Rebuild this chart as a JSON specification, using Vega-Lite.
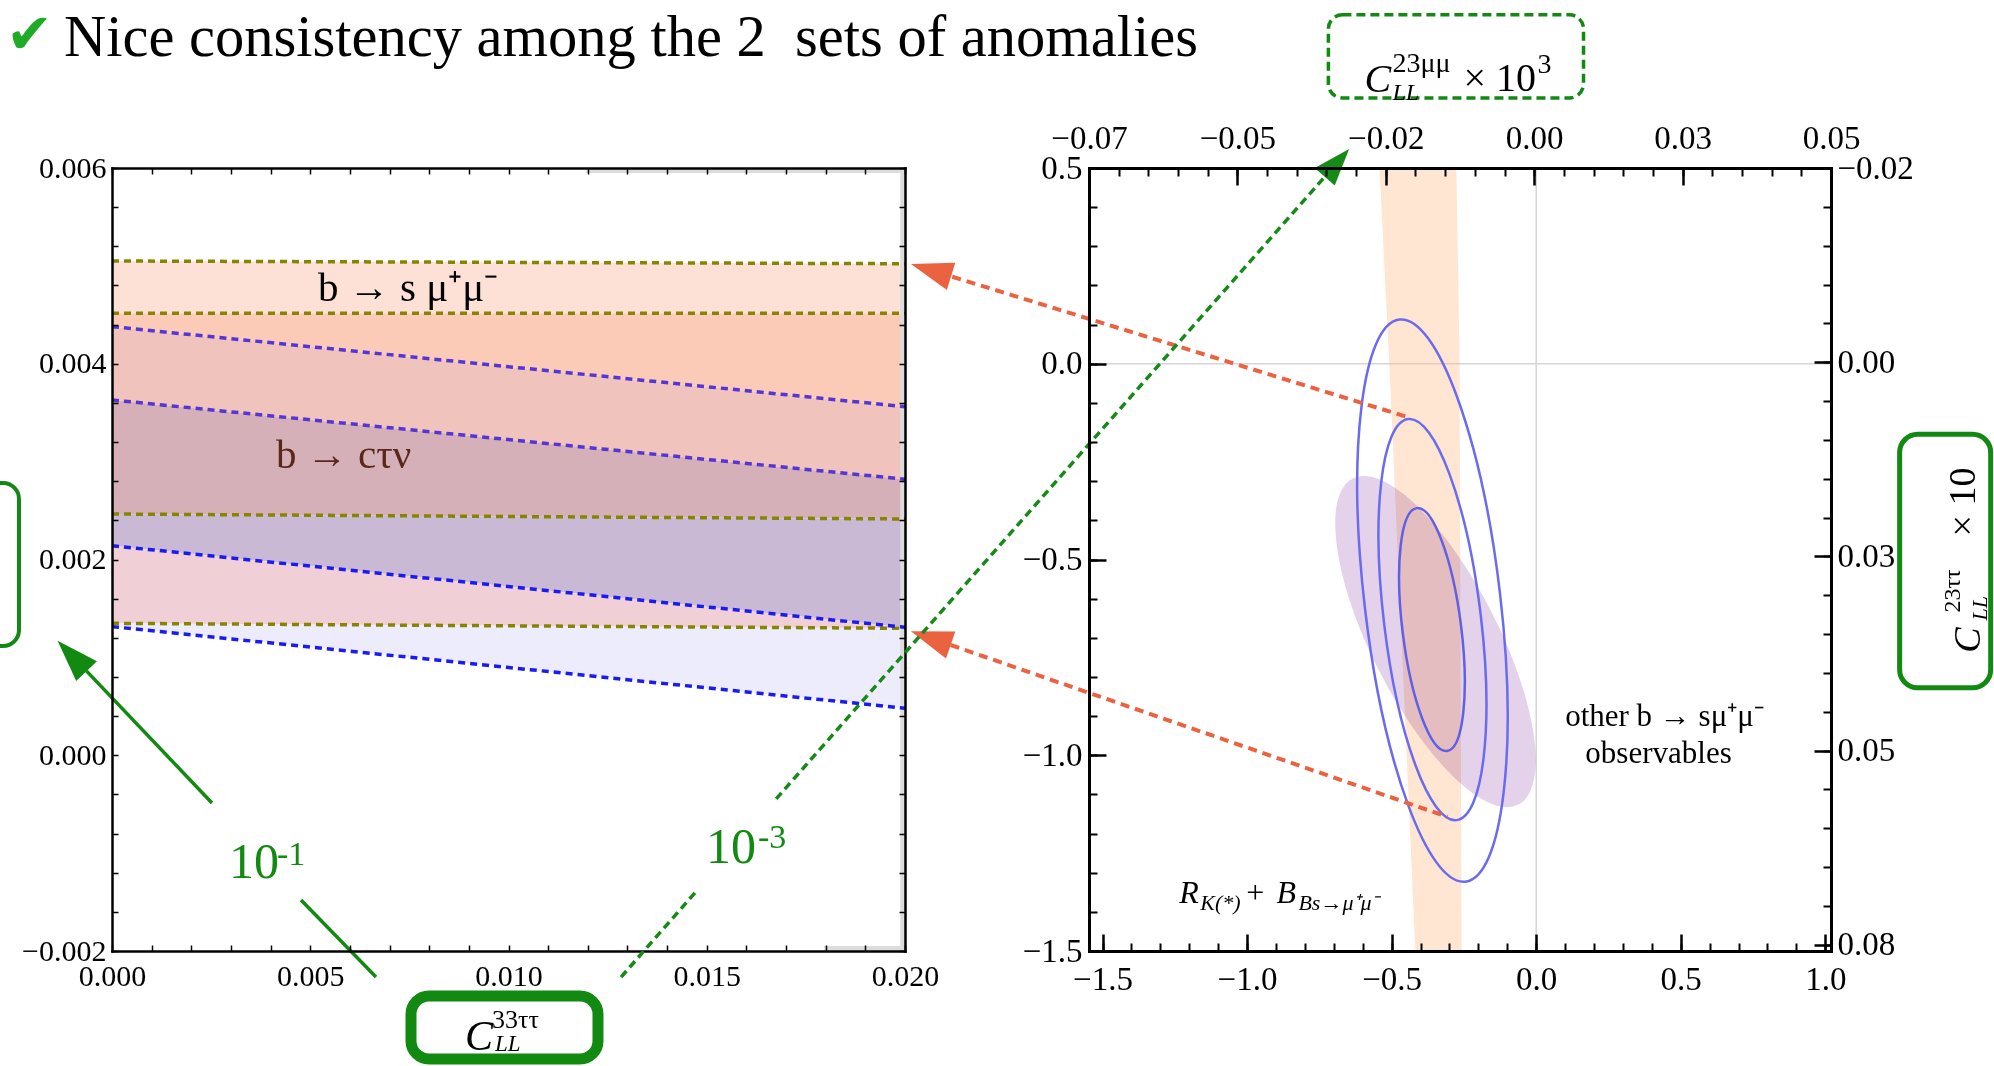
{
"$schema": "https://vega.github.io/schema/vega-lite/v6.json",
"background": "white",
"autosize": {"type": "none"},
"padding": {"left": 112, "top": 168, "right": 1882, "bottom": 898},
"spacing": 184,
"bounds": "flush",
"config": {"view": {"stroke": null}, "axis": {"grid": false, "labelFont": "Liberation Serif", "labelColor": "#000000", "tickColor": "#000000", "domainColor": "#000000"}, "text": {"font": "Liberation Serif"}},
"datasets": {
"bands": [
{"region":"R1","x":0,"lo":0.004515,"hi":0.00505},{"region":"R1","x":0.02,"lo":0.004515,"hi":0.005022},
{"region":"R2","x":0,"lo":0.004379,"hi":0.004515},{"region":"R2","x":0.02,"lo":0.003561,"hi":0.004515},
{"region":"R3","x":0,"lo":0.00363,"hi":0.004379},{"region":"R3","x":0.02,"lo":0.00282,"hi":0.003561},
{"region":"R4","x":0,"lo":0.002465,"hi":0.00363},{"region":"R4","x":0.02,"lo":0.002414,"hi":0.00282},
{"region":"R5","x":0,"lo":0.002141,"hi":0.002465},{"region":"R5","x":0.02,"lo":0.001307,"hi":0.002414},
{"region":"R6","x":0,"lo":0.001348,"hi":0.002141},{"region":"R6","x":0.02,"lo":0.001297,"hi":0.001307},
{"region":"R7","x":0,"lo":0.001314,"hi":0.001348},{"region":"R7","x":0.02,"lo":0.00048,"hi":0.001297}
],
"bandlines": [
{"line":"s2u","set":"bsmumu","x":0,"y":0.00505},{"line":"s2u","set":"bsmumu","x":0.02,"y":0.005022},
{"line":"s1u","set":"bsmumu","x":0,"y":0.004515},{"line":"s1u","set":"bsmumu","x":0.02,"y":0.004515},
{"line":"s1l","set":"bsmumu","x":0,"y":0.002465},{"line":"s1l","set":"bsmumu","x":0.02,"y":0.002414},
{"line":"s2l","set":"bsmumu","x":0,"y":0.001348},{"line":"s2l","set":"bsmumu","x":0.02,"y":0.001297},
{"line":"c2u","set":"bctaunu_hi","x":0,"y":0.004379},{"line":"c2u","set":"bctaunu_hi","x":0.02,"y":0.003561},
{"line":"c1u","set":"bctaunu_hi","x":0,"y":0.00363},{"line":"c1u","set":"bctaunu_hi","x":0.02,"y":0.00282},
{"line":"c1l","set":"bctaunu_lo","x":0,"y":0.002141},{"line":"c1l","set":"bctaunu_lo","x":0.02,"y":0.001307},
{"line":"c2l","set":"bctaunu_lo","x":0,"y":0.001314},{"line":"c2l","set":"bctaunu_lo","x":0.02,"y":0.00048}
],
"grayL": [
{"x1":0.01988,"x2":0.02,"y1":-0.002,"y2":0.006},
{"x1":0.01196,"x2":0.02,"y1":0.005949,"y2":0.006},
{"x1":0.01796,"x2":0.02,"y1":-0.002,"y2":-0.00195}
],
"boxesL": [
{"id":"ylab","x1":-0.0035,"x2":-0.002346,"y1":0.001116,"y2":0.002782},
{"id":"xlab","x1":0.007541,"x2":0.012257,"y1":-0.003103,"y2":-0.00246}
],
"arrowL": [
{"seg":"a","x":0.002522,"y":-0.000488},{"seg":"a","x":-0.000646,"y":0.000862},
{"seg":"b","x":0.004767,"y":-0.001479},{"seg":"b","x":0.006658,"y":-0.002266}
],
"headL": [{"x":-0.001372,"y":0.00117}],
"labelsL": [
{"s":"title","x":-0.0012106,"y":0.007144,"t":"Nice consistency among the 2\u00a0 sets of anomalies"},
{"s":"check","x":-0.002673,"y":0.007175,"t":"✔"},
{"s":"bs","x":0.005196,"y":0.004641,"t":"b → s μ⁺μ⁻"},
{"s":"bc","x":0.004136,"y":0.002935,"t":"b → cτν"},
{"s":"C","x":0.008903,"y":-0.003011,"t":"C"},
{"s":"sup","x":0.009584,"y":-0.002787,"t":"33ττ"},
{"s":"sub","x":0.00966,"y":-0.003022,"t":"LL"},
{"s":"ten","x":0.002951,"y":-0.001254,"t":"10"},
{"s":"exp","x":0.004161,"y":-0.001121,"t":"-1"},
{"s":"ten","x":0.014981,"y":-0.001101,"t":"10"},
{"s":"exp","x":0.016293,"y":-0.000947,"t":"-3"}
],
"orangeband": [{"y":0.5,"xl":-0.542,"xr":-0.276},{"y":0,"xl":-0.508,"xr":-0.265},{"y":-1.5,"xl":-0.418,"xr":-0.258}],
"zero": [{"v":0}],
"contours": [
{"ring":"3sigma","x":-0.3588,"y":-0.6049},
{"ring":"2sigma","x":-0.3588,"y":-0.6535},
{"ring":"1sigma","x":-0.3606,"y":-0.679}
],
"otherobs": [{"x":-0.3484,"y":-0.7097}],
"arrowsR": [
{"id":"r1","x":-0.4419,"y":-0.1368},{"id":"r1","x":-2.0197,"y":0.2223},
{"id":"r2","x":-0.3069,"y":-1.1573},{"id":"r2","x":-2.0253,"y":-0.7184}
],
"headsR": [
{"id":"r1","x":-2.1626,"y":0.2545},
{"id":"r2","x":-2.1626,"y":-0.6834},
{"id":"g","x":-0.6471,"y":0.5486}
],
"greenDash": [
{"id":"lo","x":-3.1651,"y":-1.5665},{"id":"lo","x":-2.9056,"y":-1.3478},
{"id":"hi","x":-2.6287,"y":-1.1113},{"id":"hi","x":-0.7315,"y":0.4775}
],
"boxesR": [
{"id":"ybox","x1":1.2571,"x2":1.572,"y1":-0.8274,"y2":-0.1803},
{"id":"topbox","x1":-0.7187,"x2":0.1637,"y1":0.679,"y2":0.8913}
],
"labelsR": [
{"s":"obs","x":0.4439,"y":-0.9246,"t":"other b → sμ⁺μ⁻"},
{"s":"obs","x":0.4232,"y":-1.0205,"t":"observables"},
{"s":"Rbig","x":-1.2343,"y":-1.3772,"t":"R"},
{"s":"Rsub","x":-1.1616,"y":-1.3951,"t":"K(*)"},
{"s":"plus","x":-1.0024,"y":-1.3772,"t":"+"},
{"s":"Rbig","x":-0.8986,"y":-1.3772,"t":"B"},
{"s":"Rsub","x":-0.8225,"y":-1.3951,"t":"Bs→μ⁺μ⁻"},
{"s":"Cbig","x":-0.5941,"y":0.6944,"t":"C"},
{"s":"sup","x":-0.4972,"y":0.7455,"t":"23μμ"},
{"s":"sub","x":-0.4972,"y":0.6739,"t":"LL"},
{"s":"times","x":-0.2516,"y":0.6969,"t":"× 10"},
{"s":"sup","x":0.0045,"y":0.743,"t":"3"},
{"s":"rC","x":1.5343,"y":-0.7379,"t":"C"},
{"s":"rsup","x":1.4647,"y":-0.6355,"t":"23ττ"},
{"s":"rsub","x":1.5582,"y":-0.656,"t":"LL"},
{"s":"rtimes","x":1.5166,"y":-0.4412,"t":"× 10"}
],
"topright": [{"t":-0.075,"r":-0.025},{"t":0.05,"r":0.0758}]
},
"hconcat": [
{
"width": 793, "height": 783,
"resolve": {"scale": {"color": "independent"}, "axis": {"x": "independent", "y": "independent"}},
"layer": [
{"data": {"name": "bands"}, "mark": {"type": "area"},
 "encoding": {
  "x": {"field": "x", "type": "quantitative", "scale": {"domain": [0, 0.02], "nice": false, "zero": false},
        "axis": {"orient": "bottom", "values": [0, 0.005, 0.01, 0.015, 0.02], "format": ".3f", "ticks": false, "domain": false, "labelPadding": 34, "labelBaseline": "alphabetic", "labelFontSize": 30, "labelFlush": false, "labelOverlap": false, "title": null}},
  "y": {"field": "lo", "type": "quantitative", "stack": null, "scale": {"domain": [-0.002, 0.006], "nice": false, "zero": false},
        "axis": {"orient": "left", "values": [-0.002, 0, 0.002, 0.004, 0.006], "format": ".3f", "ticks": false, "domain": false, "labelPadding": 6, "labelFontSize": 30, "labelFlush": false, "labelOverlap": false, "title": null}},
  "y2": {"field": "hi"},
  "color": {"field": "region", "type": "nominal", "legend": null, "scale": {"domain": ["R1","R2","R3","R4","R5","R6","R7"], "range": ["#fde0d6","#fccbb8","#f0c3bd","#d5b0b8","#c9b9d4","#f0d0d6","#ececfc"]}}
 }},
{"data": {"name": "grayL"}, "mark": {"type": "rect", "color": "#dcdcdc"},
 "encoding": {
  "x": {"field": "x1", "type": "quantitative", "scale": {"domain": [0, 0.02], "nice": false, "zero": false},
        "axis": {"orient": "top", "values": [0,0.001,0.002,0.003,0.004,0.005,0.006,0.007,0.008,0.009,0.01,0.011,0.012,0.013,0.014,0.015,0.016,0.017,0.018,0.019,0.02], "labels": false, "tickSize": -6, "tickWidth": 1.5, "domainWidth": 2.5, "domainCap": "square", "zindex": 1, "title": null}},
  "x2": {"field": "x2"},
  "y": {"field": "y1", "type": "quantitative", "scale": {"domain": [-0.002, 0.006], "nice": false, "zero": false},
        "axis": {"orient": "right", "values": [-0.002,-0.0016,-0.0012,-0.0008,-0.0004,0,0.0004,0.0008,0.0012,0.0016,0.002,0.0024,0.0028,0.0032,0.0036,0.004,0.0044,0.0048,0.0052,0.0056,0.006], "labels": false, "tickSize": -6, "tickWidth": 1.5, "domainWidth": 2.5, "domainCap": "square", "zindex": 1, "title": null}},
  "y2": {"field": "y2"}
 }},
{"data": {"name": "bandlines"}, "mark": {"type": "line", "strokeDash": [7, 5], "strokeWidth": 3.5},
 "encoding": {
  "x": {"field": "x", "type": "quantitative", "scale": {"domain": [0, 0.02], "nice": false, "zero": false},
        "axis": {"orient": "bottom", "values": [0,0.001,0.002,0.003,0.004,0.005,0.006,0.007,0.008,0.009,0.01,0.011,0.012,0.013,0.014,0.015,0.016,0.017,0.018,0.019,0.02], "labels": false, "tickSize": -6, "tickWidth": 1.5, "domainWidth": 2.5, "domainCap": "square", "zindex": 1, "title": null}},
  "y": {"field": "y", "type": "quantitative", "scale": {"domain": [-0.002, 0.006], "nice": false, "zero": false},
        "axis": {"orient": "left", "values": [-0.002,-0.0016,-0.0012,-0.0008,-0.0004,0,0.0004,0.0008,0.0012,0.0016,0.002,0.0024,0.0028,0.0032,0.0036,0.004,0.0044,0.0048,0.0052,0.0056,0.006], "labels": false, "tickSize": -6, "tickWidth": 1.5, "domainWidth": 2.5, "domainCap": "square", "zindex": 1, "title": null}},
  "detail": {"field": "line", "type": "nominal"},
  "color": {"field": "set", "type": "nominal", "legend": null, "scale": {"domain": ["bsmumu","bctaunu_hi","bctaunu_lo"], "range": ["#858500","#5535d5","#1a1af5"]}}
 }},
{"data": {"name": "boxesL"}, "transform": [{"filter": "datum.id == 'ylab'"}],
 "mark": {"type": "rect", "fill": "white", "fillOpacity": 0, "stroke": "#148814", "strokeWidth": 4, "cornerRadius": 16},
 "encoding": {
  "x": {"field": "x1", "type": "quantitative", "scale": {"domain": [0, 0.02], "nice": false, "zero": false}, "axis": null}, "x2": {"field": "x2"},
  "y": {"field": "y1", "type": "quantitative", "scale": {"domain": [-0.002, 0.006], "nice": false, "zero": false}, "axis": null}, "y2": {"field": "y2"}
 }},
{"data": {"name": "boxesL"}, "transform": [{"filter": "datum.id == 'xlab'"}],
 "mark": {"type": "rect", "fill": "white", "stroke": "#128a12", "strokeWidth": 11, "cornerRadius": 18},
 "encoding": {
  "x": {"field": "x1", "type": "quantitative", "scale": {"domain": [0, 0.02], "nice": false, "zero": false}, "axis": null}, "x2": {"field": "x2"},
  "y": {"field": "y1", "type": "quantitative", "scale": {"domain": [-0.002, 0.006], "nice": false, "zero": false}, "axis": null}, "y2": {"field": "y2"}
 }},
{"data": {"name": "arrowL"}, "mark": {"type": "line", "color": "#128a12", "strokeWidth": 3.5},
 "encoding": {
  "x": {"field": "x", "type": "quantitative", "scale": {"domain": [0, 0.02], "nice": false, "zero": false}, "axis": null},
  "y": {"field": "y", "type": "quantitative", "scale": {"domain": [-0.002, 0.006], "nice": false, "zero": false}, "axis": null},
  "detail": {"field": "seg", "type": "nominal"}
 }},
{"data": {"name": "headL"}, "mark": {"type": "point", "shape": "M 0 0 L 0.68 2 L -0.68 2 Z", "size": 1764, "angle": 316.4, "filled": true, "fill": "#128a12", "opacity": 1, "strokeWidth": 0},
 "encoding": {
  "x": {"field": "x", "type": "quantitative", "scale": {"domain": [0, 0.02], "nice": false, "zero": false}, "axis": null},
  "y": {"field": "y", "type": "quantitative", "scale": {"domain": [-0.002, 0.006], "nice": false, "zero": false}, "axis": null}
 }},
{"data": {"name": "labelsL"}, "transform": [{"filter": "datum.s == 'title'"}], "mark": {"type": "text", "align": "left", "baseline": "alphabetic", "fontSize": 58.5, "color": "#000000"},
 "encoding": {"x": {"field": "x", "type": "quantitative", "scale": {"domain": [0, 0.02], "nice": false, "zero": false}, "axis": null}, "y": {"field": "y", "type": "quantitative", "scale": {"domain": [-0.002, 0.006], "nice": false, "zero": false}, "axis": null}, "text": {"field": "t", "type": "nominal"}}},
{"data": {"name": "labelsL"}, "transform": [{"filter": "datum.s == 'check'"}], "mark": {"type": "text", "align": "left", "baseline": "alphabetic", "fontSize": 56, "font": "DejaVu Sans", "color": "#1faa28"},
 "encoding": {"x": {"field": "x", "type": "quantitative", "scale": {"domain": [0, 0.02], "nice": false, "zero": false}, "axis": null}, "y": {"field": "y", "type": "quantitative", "scale": {"domain": [-0.002, 0.006], "nice": false, "zero": false}, "axis": null}, "text": {"field": "t", "type": "nominal"}}},
{"data": {"name": "labelsL"}, "transform": [{"filter": "datum.s == 'bs'"}], "mark": {"type": "text", "align": "left", "baseline": "alphabetic", "fontSize": 41, "color": "#000000"},
 "encoding": {"x": {"field": "x", "type": "quantitative", "scale": {"domain": [0, 0.02], "nice": false, "zero": false}, "axis": null}, "y": {"field": "y", "type": "quantitative", "scale": {"domain": [-0.002, 0.006], "nice": false, "zero": false}, "axis": null}, "text": {"field": "t", "type": "nominal"}}},
{"data": {"name": "labelsL"}, "transform": [{"filter": "datum.s == 'bc'"}], "mark": {"type": "text", "align": "left", "baseline": "alphabetic", "fontSize": 41, "color": "#5a2819"},
 "encoding": {"x": {"field": "x", "type": "quantitative", "scale": {"domain": [0, 0.02], "nice": false, "zero": false}, "axis": null}, "y": {"field": "y", "type": "quantitative", "scale": {"domain": [-0.002, 0.006], "nice": false, "zero": false}, "axis": null}, "text": {"field": "t", "type": "nominal"}}},
{"data": {"name": "labelsL"}, "transform": [{"filter": "datum.s == 'C'"}], "mark": {"type": "text", "align": "left", "baseline": "alphabetic", "fontSize": 42, "fontStyle": "italic", "color": "#000000"},
 "encoding": {"x": {"field": "x", "type": "quantitative", "scale": {"domain": [0, 0.02], "nice": false, "zero": false}, "axis": null}, "y": {"field": "y", "type": "quantitative", "scale": {"domain": [-0.002, 0.006], "nice": false, "zero": false}, "axis": null}, "text": {"field": "t", "type": "nominal"}}},
{"data": {"name": "labelsL"}, "transform": [{"filter": "datum.s == 'sup'"}], "mark": {"type": "text", "align": "left", "baseline": "alphabetic", "fontSize": 26, "color": "#000000"},
 "encoding": {"x": {"field": "x", "type": "quantitative", "scale": {"domain": [0, 0.02], "nice": false, "zero": false}, "axis": null}, "y": {"field": "y", "type": "quantitative", "scale": {"domain": [-0.002, 0.006], "nice": false, "zero": false}, "axis": null}, "text": {"field": "t", "type": "nominal"}}},
{"data": {"name": "labelsL"}, "transform": [{"filter": "datum.s == 'sub'"}], "mark": {"type": "text", "align": "left", "baseline": "alphabetic", "fontSize": 23, "fontStyle": "italic", "color": "#000000"},
 "encoding": {"x": {"field": "x", "type": "quantitative", "scale": {"domain": [0, 0.02], "nice": false, "zero": false}, "axis": null}, "y": {"field": "y", "type": "quantitative", "scale": {"domain": [-0.002, 0.006], "nice": false, "zero": false}, "axis": null}, "text": {"field": "t", "type": "nominal"}}},
{"data": {"name": "labelsL"}, "transform": [{"filter": "datum.s == 'ten'"}], "mark": {"type": "text", "align": "left", "baseline": "alphabetic", "fontSize": 50, "color": "#128a12"},
 "encoding": {"x": {"field": "x", "type": "quantitative", "scale": {"domain": [0, 0.02], "nice": false, "zero": false}, "axis": null}, "y": {"field": "y", "type": "quantitative", "scale": {"domain": [-0.002, 0.006], "nice": false, "zero": false}, "axis": null}, "text": {"field": "t", "type": "nominal"}}},
{"data": {"name": "labelsL"}, "transform": [{"filter": "datum.s == 'exp'"}], "mark": {"type": "text", "align": "left", "baseline": "alphabetic", "fontSize": 34, "color": "#128a12"},
 "encoding": {"x": {"field": "x", "type": "quantitative", "scale": {"domain": [0, 0.02], "nice": false, "zero": false}, "axis": null}, "y": {"field": "y", "type": "quantitative", "scale": {"domain": [-0.002, 0.006], "nice": false, "zero": false}, "axis": null}, "text": {"field": "t", "type": "nominal"}}}
]
},
{
"width": 742, "height": 783,
"resolve": {"scale": {"x": "independent", "y": "independent"}},
"layer": [
{
"resolve": {"axis": {"x": "independent", "y": "independent"}},
"layer": [
{"data": {"name": "zero"}, "mark": {"type": "rule", "color": "#d6d6d6", "strokeWidth": 1.5},
 "encoding": {"x": {"field": "v", "type": "quantitative", "scale": {"domain": [-1.5467, 1.0197], "nice": false, "zero": false},
   "axis": {"orient": "bottom", "values": [-1.5, -1, -0.5, 0, 0.5, 1], "labels": false, "tickSize": -17, "tickWidth": 2.5, "domainWidth": 3, "domainCap": "square", "zindex": 1, "title": null}}}},
{"data": {"name": "zero"}, "mark": {"type": "rule", "color": "#d6d6d6", "strokeWidth": 1.5},
 "encoding": {"y": {"field": "v", "type": "quantitative", "scale": {"domain": [-1.5, 0.5], "nice": false, "zero": false},
   "axis": {"orient": "left", "values": [-1.5, -1, -0.5, 0, 0.5], "labels": false, "tickSize": -17, "tickWidth": 2.5, "domainWidth": 3, "domainCap": "square", "zindex": 1, "title": null}}}},
{"data": {"name": "orangeband"}, "mark": {"type": "area", "orient": "horizontal", "color": "#fbb87e", "opacity": 0.35},
 "encoding": {
  "y": {"field": "y", "type": "quantitative", "scale": {"domain": [-1.5, 0.5], "nice": false, "zero": false},
        "axis": {"orient": "left", "values": [-1.5, -1, -0.5, 0, 0.5], "format": ".1f", "ticks": false, "domain": false, "labelPadding": 7, "labelFontSize": 33, "labelFlush": false, "labelOverlap": false, "title": null}},
  "x": {"field": "xl", "type": "quantitative", "stack": null, "scale": {"domain": [-1.5467, 1.0197], "nice": false, "zero": false},
        "axis": {"orient": "bottom", "values": [-1.5, -1, -0.5, 0, 0.5, 1], "format": ".1f", "ticks": false, "domain": false, "labelPadding": 38, "labelBaseline": "alphabetic", "labelFontSize": 33, "labelFlush": false, "labelOverlap": false, "title": null}},
  "x2": {"field": "xr"}
 }},
{"data": {"name": "otherobs"}, "mark": {"type": "point", "shape": "M 0 -1 C 0.1917 -1 0.347 -0.5523 0.347 0 C 0.347 0.5523 0.1917 1 0 1 C -0.1917 1 -0.347 0.5523 -0.347 0 C -0.347 -0.5523 -0.1917 -1 0 -1 Z", "size": 133665, "angle": 333.1, "filled": true, "fill": "#e4d2ea", "opacity": 1, "strokeWidth": 0, "blend": "multiply"},
 "encoding": {
  "x": {"field": "x", "type": "quantitative", "scale": {"domain": [-1.5467, 1.0197], "nice": false, "zero": false},
        "axis": {"orient": "bottom", "values": [-1.5,-1.4,-1.3,-1.2,-1.1,-1,-0.9,-0.8,-0.7,-0.6,-0.5,-0.4,-0.3,-0.2,-0.1,0,0.1,0.2,0.3,0.4,0.5,0.6,0.7,0.8,0.9,1], "labels": false, "domain": false, "tickSize": -8, "tickWidth": 2, "zindex": 1, "title": null}},
  "y": {"field": "y", "type": "quantitative", "scale": {"domain": [-1.5, 0.5], "nice": false, "zero": false},
        "axis": {"orient": "left", "values": [-1.5,-1.4,-1.3,-1.2,-1.1,-1,-0.9,-0.8,-0.7,-0.6,-0.5,-0.4,-0.3,-0.2,-0.1,0,0.1,0.2,0.3,0.4,0.5], "labels": false, "domain": false, "tickSize": -8, "tickWidth": 2, "zindex": 1, "title": null}}
 }},
{"data": {"name": "contours"}, "transform": [{"filter": "datum.ring == '3sigma'"}],
 "mark": {"type": "point", "shape": "M 0 -1 C 0.1326 -1 0.24 -0.5523 0.24 0 C 0.24 0.5523 0.1326 1 0 1 C -0.1326 1 -0.24 0.5523 -0.24 0 C -0.24 -0.5523 -0.1326 -1 0 -1 Z", "size": 320356, "angle": 353.3, "filled": false, "stroke": "#6b6bef", "strokeWidth": 2.5, "opacity": 1},
 "encoding": {"x": {"field": "x", "type": "quantitative", "scale": {"domain": [-1.5467, 1.0197], "nice": false, "zero": false}, "axis": null}, "y": {"field": "y", "type": "quantitative", "scale": {"domain": [-1.5, 0.5], "nice": false, "zero": false}, "axis": null}}},
{"data": {"name": "contours"}, "transform": [{"filter": "datum.ring == '2sigma'"}],
 "mark": {"type": "point", "shape": "M 0 -1 C 0.1326 -1 0.24 -0.5523 0.24 0 C 0.24 0.5523 0.1326 1 0 1 C -0.1326 1 -0.24 0.5523 -0.24 0 C -0.24 -0.5523 -0.1326 -1 0 -1 Z", "size": 163216, "angle": 353.1, "filled": false, "stroke": "#6b6bef", "strokeWidth": 2.5, "opacity": 1},
 "encoding": {"x": {"field": "x", "type": "quantitative", "scale": {"domain": [-1.5467, 1.0197], "nice": false, "zero": false}, "axis": null}, "y": {"field": "y", "type": "quantitative", "scale": {"domain": [-1.5, 0.5], "nice": false, "zero": false}, "axis": null}}},
{"data": {"name": "contours"}, "transform": [{"filter": "datum.ring == '1sigma'"}],
 "mark": {"type": "point", "shape": "M 0 -1 C 0.1326 -1 0.24 -0.5523 0.24 0 C 0.24 0.5523 0.1326 1 0 1 C -0.1326 1 -0.24 0.5523 -0.24 0 C -0.24 -0.5523 -0.1326 -1 0 -1 Z", "size": 59927, "angle": 352.9, "filled": false, "stroke": "#6060e6", "strokeWidth": 2.5, "opacity": 1},
 "encoding": {"x": {"field": "x", "type": "quantitative", "scale": {"domain": [-1.5467, 1.0197], "nice": false, "zero": false}, "axis": null}, "y": {"field": "y", "type": "quantitative", "scale": {"domain": [-1.5, 0.5], "nice": false, "zero": false}, "axis": null}}},
{"data": {"name": "arrowsR"}, "mark": {"type": "line", "color": "#ea6240", "strokeWidth": 4, "strokeDash": [9, 6]},
 "encoding": {"x": {"field": "x", "type": "quantitative", "scale": {"domain": [-1.5467, 1.0197], "nice": false, "zero": false}, "axis": null}, "y": {"field": "y", "type": "quantitative", "scale": {"domain": [-1.5, 0.5], "nice": false, "zero": false}, "axis": null}, "detail": {"field": "id", "type": "nominal"}}},
{"data": {"name": "headsR"}, "transform": [{"filter": "datum.id == 'r1'"}],
 "mark": {"type": "point", "shape": "M 0 0 L 0.68 2 L -0.68 2 Z", "size": 1764, "angle": 287.1, "filled": true, "fill": "#ea6240", "opacity": 1, "strokeWidth": 0},
 "encoding": {"x": {"field": "x", "type": "quantitative", "scale": {"domain": [-1.5467, 1.0197], "nice": false, "zero": false}, "axis": null}, "y": {"field": "y", "type": "quantitative", "scale": {"domain": [-1.5, 0.5], "nice": false, "zero": false}, "axis": null}}},
{"data": {"name": "headsR"}, "transform": [{"filter": "datum.id == 'r2'"}],
 "mark": {"type": "point", "shape": "M 0 0 L 0.68 2 L -0.68 2 Z", "size": 1764, "angle": 289.0, "filled": true, "fill": "#ea6240", "opacity": 1, "strokeWidth": 0},
 "encoding": {"x": {"field": "x", "type": "quantitative", "scale": {"domain": [-1.5467, 1.0197], "nice": false, "zero": false}, "axis": null}, "y": {"field": "y", "type": "quantitative", "scale": {"domain": [-1.5, 0.5], "nice": false, "zero": false}, "axis": null}}},
{"data": {"name": "greenDash"}, "mark": {"type": "line", "color": "#168a16", "strokeWidth": 3.5, "strokeDash": [8, 5]},
 "encoding": {"x": {"field": "x", "type": "quantitative", "scale": {"domain": [-1.5467, 1.0197], "nice": false, "zero": false}, "axis": null}, "y": {"field": "y", "type": "quantitative", "scale": {"domain": [-1.5, 0.5], "nice": false, "zero": false}, "axis": null}, "detail": {"field": "id", "type": "nominal"}}},
{"data": {"name": "headsR"}, "transform": [{"filter": "datum.id == 'g'"}],
 "mark": {"type": "point", "shape": "M 0 0 L 0.72 2 L -0.72 2 Z", "size": 1369, "angle": 41.2, "filled": true, "fill": "#168a16", "opacity": 1, "strokeWidth": 0},
 "encoding": {"x": {"field": "x", "type": "quantitative", "scale": {"domain": [-1.5467, 1.0197], "nice": false, "zero": false}, "axis": null}, "y": {"field": "y", "type": "quantitative", "scale": {"domain": [-1.5, 0.5], "nice": false, "zero": false}, "axis": null}}},
{"data": {"name": "boxesR"}, "transform": [{"filter": "datum.id == 'ybox'"}],
 "mark": {"type": "rect", "fill": "white", "stroke": "#128a12", "strokeWidth": 5, "cornerRadius": 18},
 "encoding": {"x": {"field": "x1", "type": "quantitative", "scale": {"domain": [-1.5467, 1.0197], "nice": false, "zero": false}, "axis": null}, "x2": {"field": "x2"}, "y": {"field": "y1", "type": "quantitative", "scale": {"domain": [-1.5, 0.5], "nice": false, "zero": false}, "axis": null}, "y2": {"field": "y2"}}},
{"data": {"name": "boxesR"}, "transform": [{"filter": "datum.id == 'topbox'"}],
 "mark": {"type": "rect", "fill": "white", "stroke": "#128a12", "strokeWidth": 3.5, "strokeDash": [9, 5], "cornerRadius": 14},
 "encoding": {"x": {"field": "x1", "type": "quantitative", "scale": {"domain": [-1.5467, 1.0197], "nice": false, "zero": false}, "axis": null}, "x2": {"field": "x2"}, "y": {"field": "y1", "type": "quantitative", "scale": {"domain": [-1.5, 0.5], "nice": false, "zero": false}, "axis": null}, "y2": {"field": "y2"}}},
{"data": {"name": "labelsR"}, "transform": [{"filter": "datum.s == 'obs'"}], "mark": {"type": "text", "align": "center", "baseline": "alphabetic", "fontSize": 31, "color": "#000000"},
 "encoding": {"x": {"field": "x", "type": "quantitative", "scale": {"domain": [-1.5467, 1.0197], "nice": false, "zero": false}, "axis": null}, "y": {"field": "y", "type": "quantitative", "scale": {"domain": [-1.5, 0.5], "nice": false, "zero": false}, "axis": null}, "text": {"field": "t", "type": "nominal"}}},
{"data": {"name": "labelsR"}, "transform": [{"filter": "datum.s == 'Rbig'"}], "mark": {"type": "text", "align": "left", "baseline": "alphabetic", "fontSize": 32, "fontStyle": "italic", "color": "#000000"},
 "encoding": {"x": {"field": "x", "type": "quantitative", "scale": {"domain": [-1.5467, 1.0197], "nice": false, "zero": false}, "axis": null}, "y": {"field": "y", "type": "quantitative", "scale": {"domain": [-1.5, 0.5], "nice": false, "zero": false}, "axis": null}, "text": {"field": "t", "type": "nominal"}}},
{"data": {"name": "labelsR"}, "transform": [{"filter": "datum.s == 'Rsub'"}], "mark": {"type": "text", "align": "left", "baseline": "alphabetic", "fontSize": 22, "fontStyle": "italic", "color": "#000000"},
 "encoding": {"x": {"field": "x", "type": "quantitative", "scale": {"domain": [-1.5467, 1.0197], "nice": false, "zero": false}, "axis": null}, "y": {"field": "y", "type": "quantitative", "scale": {"domain": [-1.5, 0.5], "nice": false, "zero": false}, "axis": null}, "text": {"field": "t", "type": "nominal"}}},
{"data": {"name": "labelsR"}, "transform": [{"filter": "datum.s == 'plus'"}], "mark": {"type": "text", "align": "left", "baseline": "alphabetic", "fontSize": 32, "color": "#000000"},
 "encoding": {"x": {"field": "x", "type": "quantitative", "scale": {"domain": [-1.5467, 1.0197], "nice": false, "zero": false}, "axis": null}, "y": {"field": "y", "type": "quantitative", "scale": {"domain": [-1.5, 0.5], "nice": false, "zero": false}, "axis": null}, "text": {"field": "t", "type": "nominal"}}},
{"data": {"name": "labelsR"}, "transform": [{"filter": "datum.s == 'Cbig'"}], "mark": {"type": "text", "align": "left", "baseline": "alphabetic", "fontSize": 40, "fontStyle": "italic", "color": "#000000"},
 "encoding": {"x": {"field": "x", "type": "quantitative", "scale": {"domain": [-1.5467, 1.0197], "nice": false, "zero": false}, "axis": null}, "y": {"field": "y", "type": "quantitative", "scale": {"domain": [-1.5, 0.5], "nice": false, "zero": false}, "axis": null}, "text": {"field": "t", "type": "nominal"}}},
{"data": {"name": "labelsR"}, "transform": [{"filter": "datum.s == 'sup'"}], "mark": {"type": "text", "align": "left", "baseline": "alphabetic", "fontSize": 28, "color": "#000000"},
 "encoding": {"x": {"field": "x", "type": "quantitative", "scale": {"domain": [-1.5467, 1.0197], "nice": false, "zero": false}, "axis": null}, "y": {"field": "y", "type": "quantitative", "scale": {"domain": [-1.5, 0.5], "nice": false, "zero": false}, "axis": null}, "text": {"field": "t", "type": "nominal"}}},
{"data": {"name": "labelsR"}, "transform": [{"filter": "datum.s == 'sub'"}], "mark": {"type": "text", "align": "left", "baseline": "alphabetic", "fontSize": 24, "fontStyle": "italic", "color": "#000000"},
 "encoding": {"x": {"field": "x", "type": "quantitative", "scale": {"domain": [-1.5467, 1.0197], "nice": false, "zero": false}, "axis": null}, "y": {"field": "y", "type": "quantitative", "scale": {"domain": [-1.5, 0.5], "nice": false, "zero": false}, "axis": null}, "text": {"field": "t", "type": "nominal"}}},
{"data": {"name": "labelsR"}, "transform": [{"filter": "datum.s == 'times'"}], "mark": {"type": "text", "align": "left", "baseline": "alphabetic", "fontSize": 40, "color": "#000000"},
 "encoding": {"x": {"field": "x", "type": "quantitative", "scale": {"domain": [-1.5467, 1.0197], "nice": false, "zero": false}, "axis": null}, "y": {"field": "y", "type": "quantitative", "scale": {"domain": [-1.5, 0.5], "nice": false, "zero": false}, "axis": null}, "text": {"field": "t", "type": "nominal"}}},
{"data": {"name": "labelsR"}, "transform": [{"filter": "datum.s == 'rC'"}], "mark": {"type": "text", "align": "left", "baseline": "alphabetic", "angle": 270, "fontSize": 38, "fontStyle": "italic", "color": "#000000"},
 "encoding": {"x": {"field": "x", "type": "quantitative", "scale": {"domain": [-1.5467, 1.0197], "nice": false, "zero": false}, "axis": null}, "y": {"field": "y", "type": "quantitative", "scale": {"domain": [-1.5, 0.5], "nice": false, "zero": false}, "axis": null}, "text": {"field": "t", "type": "nominal"}}},
{"data": {"name": "labelsR"}, "transform": [{"filter": "datum.s == 'rsup'"}], "mark": {"type": "text", "align": "left", "baseline": "alphabetic", "angle": 270, "fontSize": 24, "color": "#000000"},
 "encoding": {"x": {"field": "x", "type": "quantitative", "scale": {"domain": [-1.5467, 1.0197], "nice": false, "zero": false}, "axis": null}, "y": {"field": "y", "type": "quantitative", "scale": {"domain": [-1.5, 0.5], "nice": false, "zero": false}, "axis": null}, "text": {"field": "t", "type": "nominal"}}},
{"data": {"name": "labelsR"}, "transform": [{"filter": "datum.s == 'rsub'"}], "mark": {"type": "text", "align": "left", "baseline": "alphabetic", "angle": 270, "fontSize": 22, "fontStyle": "italic", "color": "#000000"},
 "encoding": {"x": {"field": "x", "type": "quantitative", "scale": {"domain": [-1.5467, 1.0197], "nice": false, "zero": false}, "axis": null}, "y": {"field": "y", "type": "quantitative", "scale": {"domain": [-1.5, 0.5], "nice": false, "zero": false}, "axis": null}, "text": {"field": "t", "type": "nominal"}}},
{"data": {"name": "labelsR"}, "transform": [{"filter": "datum.s == 'rtimes'"}], "mark": {"type": "text", "align": "left", "baseline": "alphabetic", "angle": 270, "fontSize": 38, "color": "#000000"},
 "encoding": {"x": {"field": "x", "type": "quantitative", "scale": {"domain": [-1.5467, 1.0197], "nice": false, "zero": false}, "axis": null}, "y": {"field": "y", "type": "quantitative", "scale": {"domain": [-1.5, 0.5], "nice": false, "zero": false}, "axis": null}, "text": {"field": "t", "type": "nominal"}}}
]
},
{
"data": {"name": "topright"},
"resolve": {"axis": {"x": "independent", "y": "independent"}},
"layer": [
{"mark": {"type": "point", "opacity": 0},
 "encoding": {
  "x": {"field": "t", "type": "quantitative", "scale": {"domain": [-0.075, 0.05], "nice": false, "zero": false},
        "axis": {"orient": "top", "values": [-0.075, -0.05, -0.025, 0, 0.025, 0.05], "labelExpr": "datum.value < -0.06 ? '−0.07' : datum.value < -0.04 ? '−0.05' : datum.value < -0.01 ? '−0.02' : datum.value < 0.01 ? '0.00' : datum.value < 0.04 ? '0.03' : '0.05'", "ticks": false, "domain": false, "labelPadding": 20, "labelBaseline": "alphabetic", "labelFontSize": 33, "labelFlush": false, "labelOverlap": false, "title": null}},
  "y": {"field": "r", "type": "quantitative", "scale": {"domain": [-0.025, 0.0758], "nice": false, "zero": false, "reverse": true},
        "axis": {"orient": "right", "values": [-0.025, 0, 0.025, 0.05, 0.075], "labelExpr": "datum.value < -0.01 ? '−0.02' : datum.value < 0.01 ? '0.00' : datum.value < 0.04 ? '0.03' : datum.value < 0.06 ? '0.05' : '0.08'", "ticks": false, "domain": false, "labelPadding": 6, "labelFontSize": 33, "labelFlush": false, "labelOverlap": false, "title": null}}
 }},
{"mark": {"type": "point", "opacity": 0},
 "encoding": {
  "x": {"field": "t", "type": "quantitative", "scale": {"domain": [-0.075, 0.05], "nice": false, "zero": false},
        "axis": {"orient": "top", "values": [-0.075, -0.05, -0.025, 0, 0.025, 0.05], "labels": false, "tickSize": -17, "tickWidth": 2.5, "domainWidth": 3, "domainCap": "square", "zindex": 1, "title": null}},
  "y": {"field": "r", "type": "quantitative", "scale": {"domain": [-0.025, 0.0758], "nice": false, "zero": false, "reverse": true},
        "axis": {"orient": "right", "values": [-0.025, 0, 0.025, 0.05, 0.075], "labels": false, "tickSize": -17, "tickWidth": 2.5, "domainWidth": 3, "domainCap": "square", "zindex": 1, "title": null}}
 }},
{"mark": {"type": "point", "opacity": 0},
 "encoding": {
  "x": {"field": "t", "type": "quantitative", "scale": {"domain": [-0.075, 0.05], "nice": false, "zero": false},
        "axis": {"orient": "top", "values": [-0.075,-0.07,-0.065,-0.06,-0.055,-0.05,-0.045,-0.04,-0.035,-0.03,-0.025,-0.02,-0.015,-0.01,-0.005,0,0.005,0.01,0.015,0.02,0.025,0.03,0.035,0.04,0.045,0.05], "labels": false, "domain": false, "tickSize": -8, "tickWidth": 2, "zindex": 1, "title": null}},
  "y": {"field": "r", "type": "quantitative", "scale": {"domain": [-0.025, 0.0758], "nice": false, "zero": false, "reverse": true},
        "axis": {"orient": "right", "values": [-0.025,-0.02,-0.015,-0.01,-0.005,0,0.005,0.01,0.015,0.02,0.025,0.03,0.035,0.04,0.045,0.05,0.055,0.06,0.065,0.07,0.075], "labels": false, "domain": false, "tickSize": -8, "tickWidth": 2, "zindex": 1, "title": null}}
 }}
]
}
]
}
]
}
